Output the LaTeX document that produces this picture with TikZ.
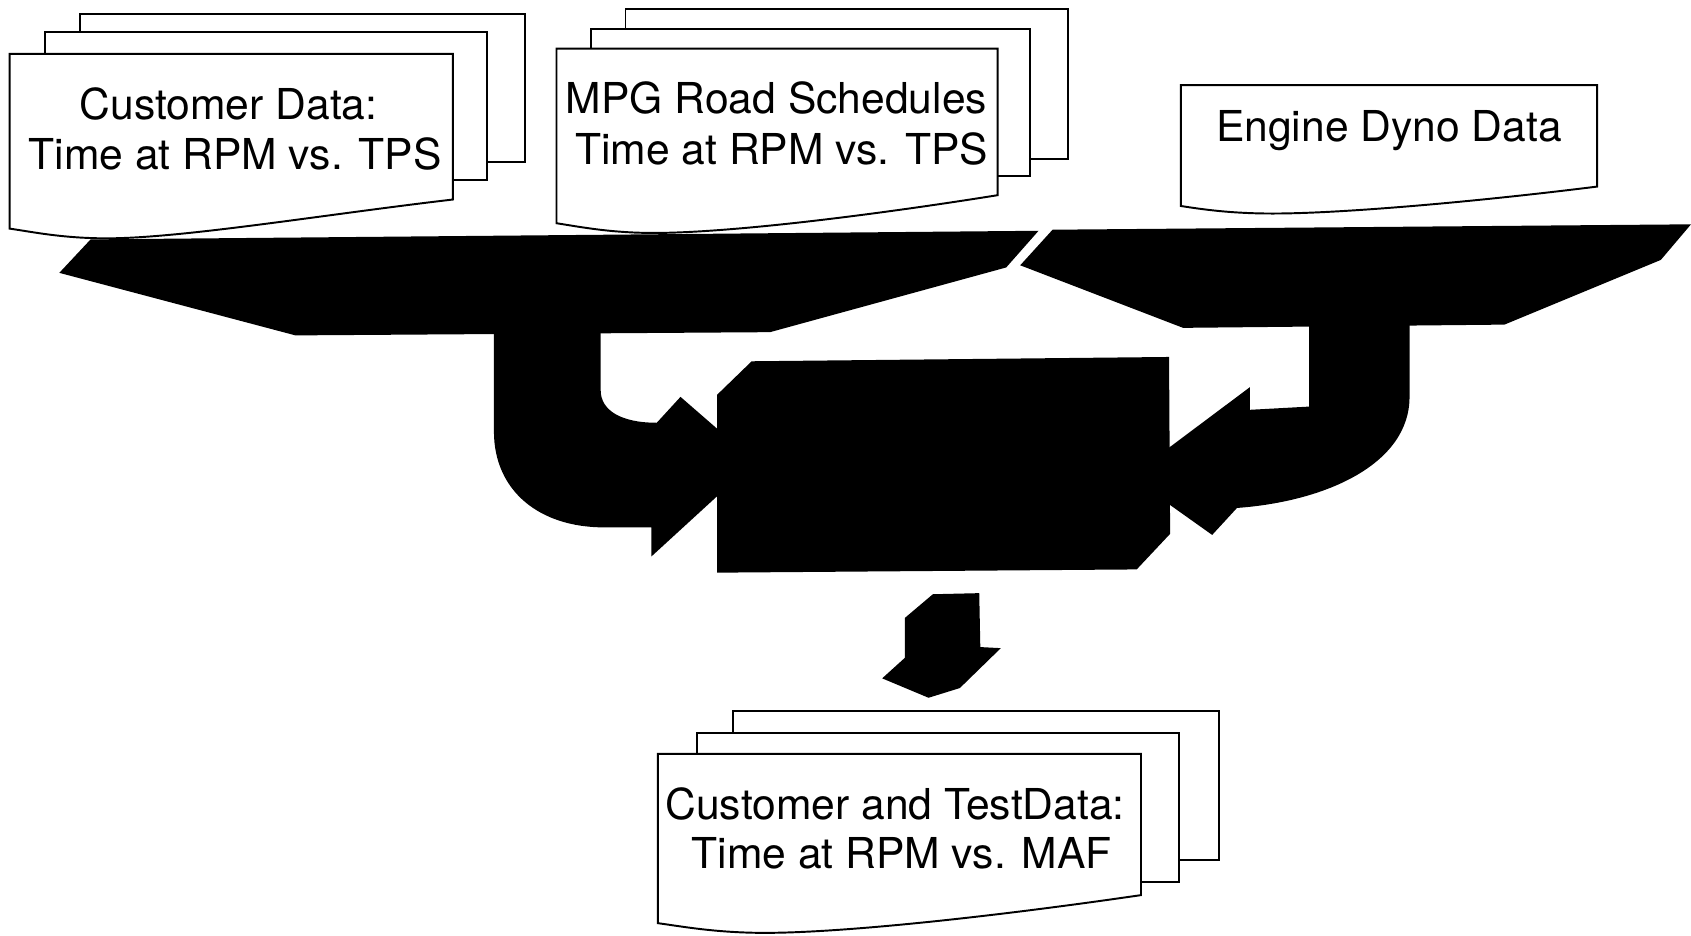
\documentclass[tikz,border=0pt]{standalone}
\usepackage{fontspec}
\setmainfont{TeX Gyre Heros}
\begin{document}
\begin{tikzpicture}[x=1pt,y=-1pt,
  docpage/.style={draw=black, fill=white, line width=1.8pt, line join=miter},
  solid black/.style={fill=black, draw=none},
  lbl/.style={font=\fontsize{39.5}{47}\selectfont, inner sep=0pt, anchor=base}]
\useasboundingbox (0,0) rectangle (1568,867);

% manifold bars collecting the data sources
\path[solid black] (84,222) -- (963,214) -- (933,248) -- (714,308) -- (274,311) -- (55,253) -- cycle;
\path[solid black] (976,213) -- (1568,208) -- (1540,241) -- (1395,301) -- (1097,304) -- (946,246) -- cycle;

% left pipe bending into the converter
\path[solid black] (458,305) -- (458,400) .. controls (458,455) and (500,489) .. (560,489)
  -- (604,489) -- (604,516) -- (700,428) -- (631,368) -- (609,392)
  .. controls (575,392) and (557,380) .. (557,362) -- (557,305) -- cycle;

% right pipe bending into the converter
\path[solid black] (1214,300) -- (1214,377) -- (1159,380) -- (1159,359) -- (1048,442)
  -- (1124,496) -- (1147,471) .. controls (1230,465) and (1307,430) .. (1307,368)
  -- (1307,300) -- cycle;

% converter block
\path[solid black] (665,366) -- (697,335) -- (1084,331) -- (1085,495) -- (1054,528) -- (665,531) -- cycle;

% output arrow
\path[solid black] (865,551) -- (908,550) -- (909,600) -- (928,601) -- (890,638) -- (861,647)
  -- (818,629) -- (839,610) -- (839,573) -- cycle;

% customer data stack
\path[docpage] (74,13) rectangle (487,150);
\path[docpage] (42,30) rectangle (452,167);
\path[docpage] (9,50) -- (420,50) -- (420,185) .. controls (300,199) and (169,221) .. (99,221)
  .. controls (58,221) and (30,215) .. (9,212) -- cycle;
\node[lbl] (cust1) at (212,110.5) {Customer Data:};
\node[lbl] (cust2) at (218,157.5) {Time at RPM vs. TPS};

% road schedule stack
\path[docpage] (580,8) rectangle (990,147);
\path[docpage] (548,27) rectangle (955,163);
\path[docpage] (516,45) -- (925,45) -- (925,181) .. controls (806,200) and (676,216) .. (606,216)
  .. controls (565,216) and (536,210) .. (516,207) -- cycle;
\node[lbl] (mpg1) at (720,105) {MPG Road Schedules};
\node[lbl] (mpg2) at (725,152.5) {Time at RPM vs. TPS};

% dyno document
\path[docpage] (1095,79) -- (1481,79) -- (1481,173) .. controls (1369,187) and (1245,198) .. (1180,198)
  .. controls (1141,198) and (1114,194) .. (1095,191) -- cycle;
\node[lbl] (dyno) at (1288,131) {Engine Dyno Data};

% resulting data stack
\path[docpage] (680,659) rectangle (1130,797);
\path[docpage] (646,680) rectangle (1093,818);
\path[docpage] (610,699) -- (1058,699) -- (1058,830) .. controls (928,849) and (785,865) .. (709,865)
  .. controls (664,865) and (632,859) .. (610,856) -- cycle;
\node[lbl] (out1) at (830,760) {Customer and TestData:};
\node[lbl] (out2) at (836,805) {Time at RPM vs. MAF};
\end{tikzpicture}
\end{document}
